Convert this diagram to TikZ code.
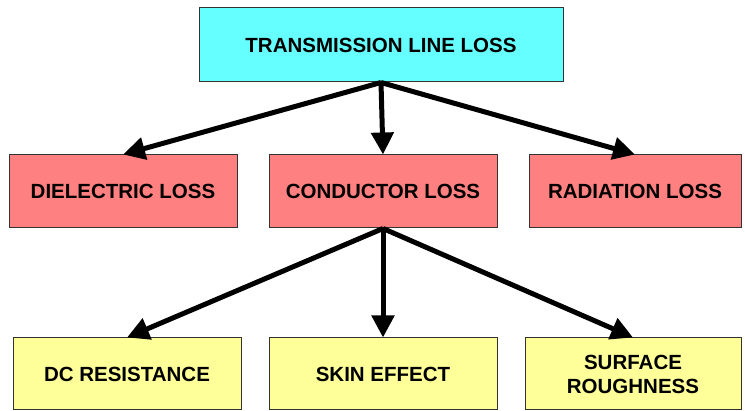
\documentclass[tikz,border=0pt]{standalone}
\usepackage{fontspec}
\setmainfont{Liberation Sans}
\usetikzlibrary{arrows.meta}
\definecolor{losscyan}{RGB}{102,255,255}
\definecolor{lossred}{RGB}{255,128,128}
\definecolor{lossyellow}{RGB}{255,255,153}
\begin{document}
\begin{tikzpicture}[x=1pt, y=-1pt, >={Triangle[length=22pt,width=22pt]},
  box/.style={draw=black!80, line width=1pt, inner sep=0pt, align=center,
    font=\fontsize{20.5}{24}\selectfont\bfseries},
  link/.style={->, line width=5pt}]
\useasboundingbox (0,0) rectangle (745,411);
% top
\node[box, fill=losscyan, minimum width=364pt, minimum height=74pt] (tll) at (381,45) {TRANSMISSION LINE LOSS};
% middle row
\node[box, fill=lossred, minimum width=228pt, minimum height=73pt] (diel) at (123,191.5) {DIELECTRIC LOSS};
\node[box, fill=lossred, minimum width=228pt, minimum height=73pt] (cond) at (383,191.5) {CONDUCTOR LOSS};
\node[box, fill=lossred, minimum width=212pt, minimum height=73pt] (rad) at (635,191.5) {RADIATION LOSS};
% bottom row
\node[box, fill=lossyellow, minimum width=228pt, minimum height=72pt] (dcres) at (127,374) {DC RESISTANCE};
\node[box, fill=lossyellow, minimum width=228pt, minimum height=72pt] (skin) at (383,374) {SKIN EFFECT};
\node[box, fill=lossyellow, minimum width=216pt, minimum height=72pt] (rough) at (633,374) {SURFACE\\ROUGHNESS};
% arrows
\draw[link] (tll.south) -- (diel.north);
\draw[link] (tll.south) -- (cond.north);
\draw[link] (tll.south) -- (rad.north);
\draw[link] (cond.south) -- (dcres.north);
\draw[link] (cond.south) -- (skin.north);
\draw[link] (cond.south) -- (rough.north);
\end{tikzpicture}
\end{document}
